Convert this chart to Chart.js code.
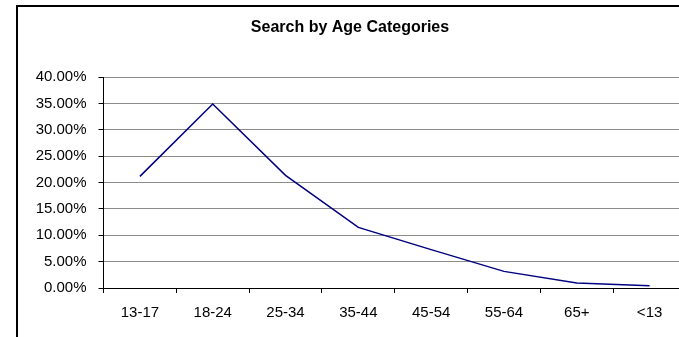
<!DOCTYPE html>
<html>
<head>
<meta charset="utf-8">
<script src="https://cdn.jsdelivr.net/npm/chart.js@4"></script>
<style>
  html, body { margin: 0; padding: 0; background: #fff; width: 679px; height: 337px; overflow: hidden; }
  .viewport { position: relative; width: 679px; height: 337px; overflow: hidden; background: #fff; }
  .frame { position: absolute; left: 16px; top: 5px; width: 740px; height: 400px; border-left: 2px solid #000; border-top: 2px solid #000; background: #fff; }
  .frame canvas { position: absolute; left: 0; top: 0; }
</style>
</head>
<body>
<div class="viewport">
  <div class="frame">
    <canvas id="chart" width="668" height="340"></canvas>
  </div>
</div>
<script>
// Share of searches per age group
const titleText = 'Search by Age Categories';
const ageGroups = ['13-17', '18-24', '25-34', '35-44', '45-54', '55-64', '65+', '<13'];
const searchShare = [0.2116, 0.3488, 0.2135, 0.1149, 0.0728, 0.0315, 0.0095, 0.0044];
const yMin = 0;
const yMax = 0.40;
const yStep = 0.05;

const fontFamily = "'Liberation Sans', Arial, sans-serif";

// Centered bold title over the whole frame
const titlePlugin = {
  id: 'frameTitle',
  afterDraw(chart) {
    const ctx = chart.ctx;
    ctx.save();
    ctx.font = 'bold 16px ' + fontFamily;
    ctx.fillStyle = '#000';
    ctx.textAlign = 'center';
    ctx.textBaseline = 'middle';
    ctx.fillText(titleText, 332, 21);
    ctx.restore();
  }
};

new Chart(document.getElementById('chart'), {
  type: 'line',
  data: {
    labels: ageGroups,
    datasets: [{
      data: searchShare,
      borderColor: '#000080',
      borderWidth: 1.5,
      pointRadius: 0,
      tension: 0,
      fill: false
    }]
  },
  options: {
    responsive: false,
    devicePixelRatio: 1,
    animation: false,
    layout: { padding: { top: 70, left: 0, right: 0, bottom: 9 } },
    plugins: {
      legend: { display: false },
      title: { display: false },
      tooltip: { enabled: false }
    },
    scales: {
      x: {
        offset: true,
        grid: {
          offset: true,
          drawOnChartArea: false,
          drawTicks: true,
          tickLength: 5,
          tickColor: '#000'
        },
        border: { color: '#000', width: 1 },
        ticks: {
          color: '#000',
          padding: 11,
          maxRotation: 0,
          autoSkip: false,
          font: { family: fontFamily, size: 15 }
        },
        afterFit(scale) { scale.height = 50; }
      },
      y: {
        min: yMin,
        max: yMax,
        grid: {
          color: '#8c8c8c',
          lineWidth: 1,
          tickLength: 5,
          tickColor: '#000'
        },
        border: { color: '#000', width: 1 },
        ticks: {
          stepSize: yStep,
          color: '#000',
          padding: 12,
          font: { family: fontFamily, size: 15 },
          callback: (v) => (v * 100).toFixed(2) + '%'
        },
        afterFit(scale) { scale.width = 85.5; }
      }
    }
  },
  plugins: [titlePlugin]
});
</script>
</body>
</html>
